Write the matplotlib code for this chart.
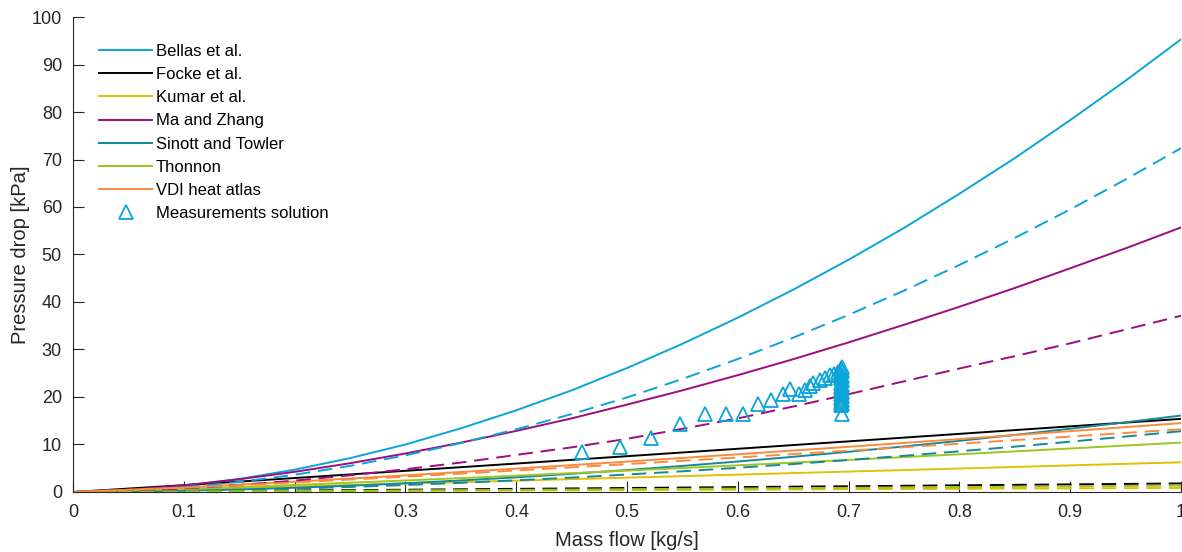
import matplotlib
matplotlib.use("Agg")
import matplotlib.pyplot as plt
from matplotlib.lines import Line2D

plt.rcParams["font.family"] = ["Liberation Sans", "DejaVu Sans"]

# mass flow grids [kg/s]: fine one for the strongly curved correlations
mass_flow = [0.0, 0.1, 0.2, 0.3, 0.4, 0.5, 0.6, 0.7, 0.8, 0.9, 1.0]
mass_flow_fine = [0.0, 0.05, 0.1, 0.15, 0.2, 0.25, 0.3, 0.35, 0.4, 0.45, 0.5,
                  0.55, 0.6, 0.65, 0.7, 0.75, 0.8, 0.85, 0.9, 0.95, 1.0]

# pressure drop [kPa], solid = solution, dashed = water
bellas_sol = [0.0, 0.35, 1.29, 2.74, 4.70, 7.13, 10.0, 13.4, 17.2, 21.4, 26.1,
              31.2, 36.7, 42.6, 48.9, 55.6, 62.8, 70.3, 78.3, 86.6, 95.3]
bellas_wat = [0.0, 0.28, 1.00, 2.12, 3.63, 5.50, 7.71, 10.3, 13.2, 16.4, 19.9,
              23.8, 28.0, 32.5, 37.3, 42.4, 47.8, 53.5, 59.5, 65.8, 72.4]
ma_sol = [0.0, 0.46, 1.40, 2.68, 4.24, 6.06, 8.11, 10.38, 12.86, 15.5, 18.4,
          21.4, 24.6, 27.96, 31.5, 35.2, 39.0, 42.95, 47.1, 51.3, 55.7]
ma_wat = [0.0, 0.20, 0.74, 1.46, 2.40, 3.52, 4.79, 6.2, 7.81, 9.4, 11.2,
          13.3, 15.5, 18.0, 20.6, 23.3, 26.0, 28.6, 31.3, 34.2, 37.1]
sinott_sol = [0.0, 0.07, 0.26, 0.53, 0.89, 1.33, 1.84, 2.43, 3.09, 3.83, 4.62,
              5.49, 6.42, 7.41, 8.47, 9.59, 10.77, 12.02, 13.32, 14.68, 16.1]
sinott_wat = [0.0, 0.06, 0.20, 0.42, 0.71, 1.06, 1.47, 1.93, 2.46, 3.04, 3.68,
              4.36, 5.10, 5.89, 6.74, 7.63, 8.57, 9.55, 10.59, 11.67, 12.8]

focke_sol = [0.0, 1.44, 2.94, 4.46, 5.99, 7.54, 9.10, 10.66, 12.24, 13.82, 15.4]
focke_wat = [0.0, 0.14, 0.31, 0.48, 0.66, 0.84, 1.03, 1.21, 1.41, 1.60, 1.80]
kumar_sol = [0.0, 0.56, 1.15, 1.77, 2.39, 3.02, 3.66, 4.30, 4.94, 5.60, 6.25]
kumar_wat = [0.0, 0.08, 0.16, 0.24, 0.33, 0.41, 0.50, 0.59, 0.67, 0.76, 0.85]
thonnon_sol = [0.0, 0.64, 1.48, 2.42, 3.43, 4.50, 5.61, 6.76, 7.94, 9.16, 10.4]
thonnon_wat = [0.0, 0.09, 0.20, 0.32, 0.44, 0.59, 0.73, 0.88, 1.03, 1.19, 1.35]
vdi_sol = [0.0, 0.96, 2.17, 3.50, 4.92, 6.40, 7.94, 9.52, 11.14, 12.81, 14.5]
vdi_wat = [0.0, 0.89, 2.01, 3.23, 4.52, 5.87, 7.26, 8.70, 10.17, 11.67, 13.2]

# measured points (solution)
meas_flow = [0.459, 0.494, 0.522, 0.548, 0.570, 0.589, 0.605, 0.618, 0.630,
             0.641, 0.647, 0.655, 0.661, 0.665, 0.668, 0.674, 0.679, 0.683,
             0.687, 0.690,
             0.694, 0.693, 0.694, 0.693, 0.694, 0.693, 0.694, 0.693, 0.694,
             0.693, 0.694, 0.693, 0.694, 0.693, 0.694, 0.693, 0.694, 0.693,
             0.694, 0.693, 0.694]
meas_dp = [8.5, 9.5, 11.4, 14.4, 16.4, 16.4, 16.4, 18.5, 19.4,
           20.6, 21.6, 20.6, 21.5, 22.3, 22.9, 23.6, 23.9, 24.6,
           24.9, 25.3,
           26.4, 25.9, 25.4, 24.9, 24.4, 23.9, 23.5, 23.0, 22.6,
           22.2, 21.8, 21.4, 21.0, 20.6, 20.2, 19.8, 19.4, 19.0,
           18.6, 18.3, 16.5]

F, C = mass_flow_fine, mass_flow
models = [
    ("Bellas et al.", "#0AA5D8", F, bellas_sol, bellas_wat),
    ("Focke et al.", "#000000", C, focke_sol, focke_wat),
    ("Kumar et al.", "#E3C000", C, kumar_sol, kumar_wat),
    ("Ma and Zhang", "#9E0C80", F, ma_sol, ma_wat),
    ("Sinott and Towler", "#13899A", F, sinott_sol, sinott_wat),
    ("Thonnon", "#9DC61E", C, thonnon_sol, thonnon_wat),
    ("VDI heat atlas", "#FA8A3E", C, vdi_sol, vdi_wat),
]
meas_color = "#0AA5D8"
axis_color = "#262626"

fig = plt.figure(figsize=(11.82, 5.52), dpi=100)
ax = fig.add_axes([0.0618, 0.1087, 0.9374, 0.8605])

handles = []
for name, color, x, sol, wat in models:
    h, = ax.plot(x, sol, color=color, lw=1.4, label=name)
    handles.append(h)
for name, color, x, sol, wat in models:
    ax.plot(x, wat, color=color, lw=1.4, dashes=(7.5, 4))

ax.plot(meas_flow, meas_dp, ls="none", marker="^", ms=10.5, mfc="none",
        mec=meas_color, mew=1.3)
handles.append(Line2D([], [], ls="none", marker="^", ms=10.5, mfc="none",
                      mec=meas_color, mew=1.3, label="Measurements solution"))

ax.set_xlim(0, 1)
ax.set_ylim(0, 100)
ax.set_xticks([i / 10 for i in range(11)])
ax.set_xticklabels(["0", "0.1", "0.2", "0.3", "0.4", "0.5", "0.6", "0.7",
                    "0.8", "0.9", "1"])
ax.set_yticks(range(0, 101, 10))
ax.tick_params(direction="in", length=8, width=0.8, colors=axis_color,
               labelsize=13, pad=8)
ax.tick_params(axis="x", pad=9)
for side in ("top", "right"):
    ax.spines[side].set_visible(False)
for side in ("left", "bottom"):
    ax.spines[side].set_color(axis_color)
    ax.spines[side].set_linewidth(0.8)

ax.set_xlabel("Mass flow [kg/s]", fontsize=14.5, color=axis_color, labelpad=7)
ax.set_ylabel("Pressure drop [kPa]", fontsize=14.5, color=axis_color,
              labelpad=1)

ax.legend(handles=handles, loc="upper left", bbox_to_anchor=(0.01, 0.975),
          frameon=False, fontsize=12, handlelength=3.2, handletextpad=0.2,
          labelspacing=0.49, numpoints=1)

fig.savefig("out.png", dpi=100, facecolor="white")
